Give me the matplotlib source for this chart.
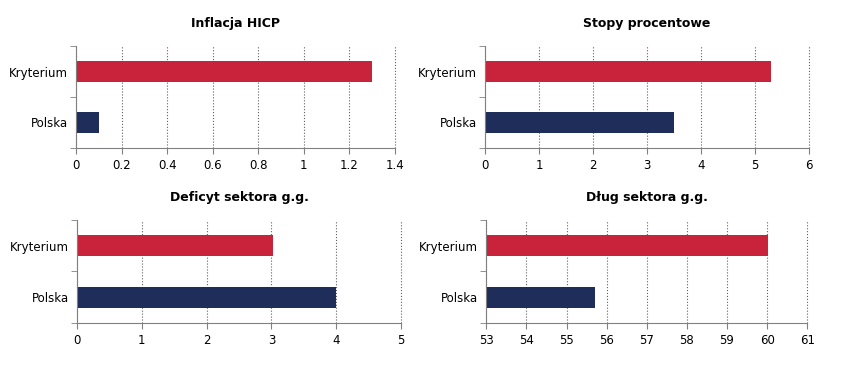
import numpy as np
import matplotlib.pyplot as plt

# data
categories = ['Polska', 'Kryterium']
titles = ['Inflacja HICP', 'Stopy procentowe', 'Deficyt sektora g.g.', 'Dług sektora g.g.']
values_inflacja = [0.1, 1.3]
values_stopy = [3.5, 5.3]
values_deficyt = [4.0, 3.02]
values_dlug = [55.7, 60.03]
xticks_inflacja = [0, 0.2, 0.4, 0.6, 0.8, 1, 1.2, 1.4]
xticks_stopy = [0, 1, 2, 3, 4, 5, 6]
xticks_deficyt = [0, 1, 2, 3, 4, 5]
xticks_dlug = [53, 54, 55, 56, 57, 58, 59, 60, 61]

colors = ['#1f2d5a', '#c8233a']
gray = '#808080'

fig = plt.figure(figsize=(8.45, 3.69), dpi=100)
boxes = [
    [0.0899, 0.599, 0.3776, 0.2763],
    [0.5743, 0.599, 0.3827, 0.2763],
    [0.0911, 0.1247, 0.3835, 0.2791],
    [0.5755, 0.1247, 0.3799, 0.2791],
]
all_vals = [values_inflacja, values_stopy, values_deficyt, values_dlug]
all_ticks = [xticks_inflacja, xticks_stopy, xticks_deficyt, xticks_dlug]

for box, title, vals, ticks in zip(boxes, titles, all_vals, all_ticks):
    ax = fig.add_axes(box)
    y = np.arange(len(categories))
    left = ticks[0]
    ax.barh(y, np.array(vals) - left, left=left, height=0.4, color=colors)
    ax.set_xlim(ticks[0], ticks[-1])
    ax.set_ylim(-0.5, 1.5)
    ax.set_xticks(ticks)
    ax.set_xticklabels([('%g' % t) for t in ticks], fontsize=8.5)
    ax.set_yticks(y)
    ax.set_yticklabels(categories, fontsize=8.5)
    ax.set_yticks([-0.5, 0.5, 1.5], minor=True)
    ax.tick_params(axis='y', which='major', length=0, pad=6)
    ax.tick_params(axis='y', which='minor', length=4, color=gray)
    ax.tick_params(axis='x', length=4, color=gray, pad=4)
    ax.grid(axis='x', linestyle=':', color='#606060', linewidth=0.8)
    for gl in ax.get_xgridlines():
        gl.set_clip_on(False)
    ax.set_axisbelow(True)
    for s in ['top', 'right']:
        ax.spines[s].set_visible(False)
    for s in ['left', 'bottom']:
        ax.spines[s].set_color(gray)
    ax.set_title(title, fontsize=9, fontweight='bold', pad=14)

fig.savefig('out.png', dpi=100, facecolor='white')
